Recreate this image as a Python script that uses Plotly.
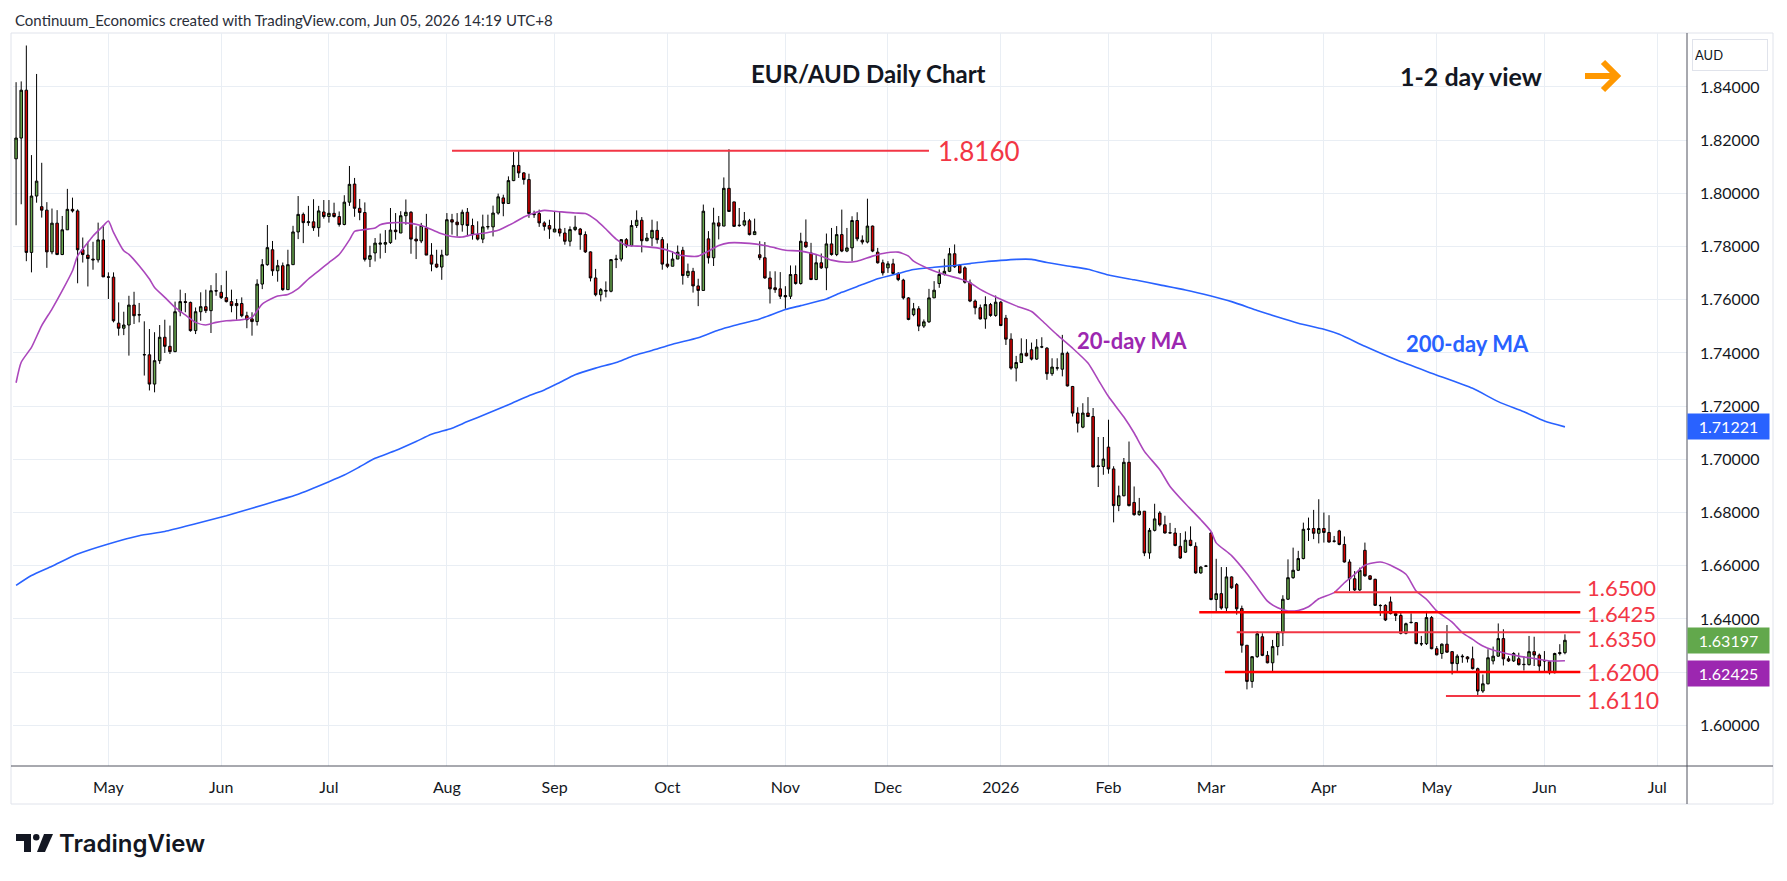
import pandas as pd
import plotly.graph_objects as go

# ---------------------------------------------------------------------
# EUR/AUD daily candles, Apr 7 2025 .. Jun 5 2026
# ---------------------------------------------------------------------
opens = [
    1.8130, 1.8208, 1.8388, 1.7778, 1.7990, 1.7950, 1.7937, 1.7780, 1.7888, 1.7770,
    1.7863, 1.7940, 1.7934, 1.7788, 1.7768, 1.7753, 1.7750, 1.7825, 1.7686, 1.7685,
    1.7512, 1.7493, 1.7505, 1.7580, 1.7544, 1.7394, 1.7393, 1.7283, 1.7371, 1.7459,
    1.7425, 1.7405, 1.7555, 1.7593, 1.7590, 1.7484, 1.7555, 1.7574, 1.7559, 1.7634,
    1.7628, 1.7608, 1.7593, 1.7586, 1.7586, 1.7540, 1.7528, 1.7518, 1.7659, 1.7732,
    1.7788, 1.7709, 1.7728, 1.7638, 1.7732, 1.7855, 1.7921, 1.7890, 1.7893, 1.7871,
    1.7930, 1.7913, 1.7925, 1.7913, 1.7883, 1.7967, 1.8035, 1.7944, 1.7928, 1.7752,
    1.7776, 1.7809, 1.7809, 1.7815, 1.7862, 1.7851, 1.7916, 1.7929, 1.7828, 1.7821,
    1.7870, 1.7768, 1.7734, 1.7723, 1.7768, 1.7901, 1.7892, 1.7882, 1.7929, 1.7879,
    1.7845, 1.7828, 1.7874, 1.7874, 1.7926, 1.7983, 1.7962, 1.8048, 1.8105, 1.8077,
    1.8052, 1.7924, 1.7924, 1.7889, 1.7879, 1.7855, 1.7866, 1.7851, 1.7820, 1.7864,
    1.7866, 1.7845, 1.7780, 1.7682, 1.7619, 1.7632, 1.7632, 1.7751, 1.7753, 1.7826,
    1.7803, 1.7879, 1.7899, 1.7822, 1.7832, 1.7861, 1.7826, 1.7734, 1.7726, 1.7753,
    1.7786, 1.7691, 1.7707, 1.7652, 1.7635, 1.7829, 1.7758, 1.7889, 1.7877, 1.8019,
    1.7968, 1.7879, 1.7881, 1.7897, 1.7845, 1.7769, 1.7758, 1.7682, 1.7645, 1.7641,
    1.7616, 1.7613, 1.7695, 1.7661, 1.7817, 1.7776, 1.7676, 1.7739, 1.7720, 1.7810,
    1.7770, 1.7845, 1.7783, 1.7795, 1.7898, 1.7824, 1.7817, 1.7877, 1.7779, 1.7739,
    1.7720, 1.7735, 1.7699, 1.7674, 1.7607, 1.7544, 1.7566, 1.7501, 1.7517, 1.7607,
    1.7661, 1.7695, 1.7707, 1.7773, 1.7730, 1.7720, 1.7664, 1.7595, 1.7570, 1.7528,
    1.7582, 1.7541, 1.7591, 1.7531, 1.7452, 1.7343, 1.7364, 1.7399, 1.7412, 1.7377,
    1.7422, 1.7418, 1.7322, 1.7343, 1.7339, 1.7399, 1.7274, 1.7174, 1.7121, 1.7174,
    1.7161, 1.6973, 1.6973, 1.7046, 1.6964, 1.6826, 1.6863, 1.6989, 1.6838, 1.6792,
    1.6805, 1.6648, 1.6733, 1.6798, 1.6754, 1.6723, 1.6723, 1.6673, 1.6651, 1.6696,
    1.6673, 1.6573, 1.6598, 1.6723, 1.6473, 1.6495, 1.6441, 1.6558, 1.6529, 1.6439,
    1.6301, 1.6165, 1.6258, 1.6333, 1.6263, 1.6235, 1.6296, 1.6348, 1.6474, 1.6555,
    1.6583, 1.6627, 1.6737, 1.6740, 1.6722, 1.6740, 1.6725, 1.6693, 1.6731, 1.6680,
    1.6614, 1.6551, 1.6509, 1.6658, 1.6562, 1.6549, 1.6451, 1.6451, 1.6464, 1.6420,
    1.6413, 1.6346, 1.6386, 1.6386, 1.6307, 1.6307, 1.6405, 1.6288, 1.6270, 1.6305,
    1.6277, 1.6232, 1.6260, 1.6257, 1.6250, 1.6213, 1.6129, 1.6156, 1.6242, 1.6260,
    1.6326, 1.6250, 1.6242, 1.6250, 1.6228, 1.6228, 1.6277, 1.6264, 1.6242, 1.6239,
    1.6198, 1.6270, 1.6273,
]
highs = [
    1.8418, 1.8421, 1.8556, 1.8144, 1.8449, 1.8115, 1.7967, 1.7943, 1.7937, 1.7915,
    1.8017, 1.7984, 1.7940, 1.7834, 1.7818, 1.7818, 1.7890, 1.7880, 1.7703, 1.7703,
    1.7590, 1.7555, 1.7615, 1.7630, 1.7588, 1.7519, 1.7490, 1.7478, 1.7505, 1.7525,
    1.7503, 1.7593, 1.7638, 1.7625, 1.7593, 1.7571, 1.7628, 1.7638, 1.7655, 1.7700,
    1.7655, 1.7709, 1.7638, 1.7603, 1.7609, 1.7555, 1.7553, 1.7677, 1.7753, 1.7881,
    1.7821, 1.7750, 1.7740, 1.7788, 1.7878, 1.7990, 1.7928, 1.7953, 1.7978, 1.7953,
    1.7975, 1.7975, 1.7965, 1.7932, 1.7993, 1.8103, 1.8058, 1.7979, 1.7966, 1.7803,
    1.7832, 1.7849, 1.7862, 1.7945, 1.7926, 1.7933, 1.7977, 1.7933, 1.7876, 1.7889,
    1.7923, 1.7813, 1.7788, 1.7788, 1.7926, 1.7923, 1.7926, 1.7939, 1.7945, 1.7905,
    1.7895, 1.7920, 1.7920, 1.7954, 1.7999, 1.7995, 1.8064, 1.8155, 1.8162, 1.8080,
    1.8074, 1.7935, 1.7939, 1.7895, 1.7901, 1.7933, 1.7933, 1.7870, 1.7876, 1.7916,
    1.7870, 1.7857, 1.7782, 1.7716, 1.7644, 1.7669, 1.7753, 1.7769, 1.7828, 1.7832,
    1.7899, 1.7936, 1.7911, 1.7851, 1.7901, 1.7895, 1.7836, 1.7812, 1.7782, 1.7804,
    1.7799, 1.7736, 1.7720, 1.7679, 1.7958, 1.7858, 1.7946, 1.7915, 1.8060, 1.8166,
    1.7968, 1.7945, 1.7930, 1.7904, 1.7905, 1.7820, 1.7817, 1.7707, 1.7707, 1.7704,
    1.7651, 1.7729, 1.7729, 1.7852, 1.7902, 1.7814, 1.7770, 1.7774, 1.7849, 1.7870,
    1.7877, 1.7939, 1.7870, 1.7914, 1.7929, 1.7842, 1.7980, 1.7879, 1.7795, 1.7751,
    1.7745, 1.7754, 1.7704, 1.7679, 1.7610, 1.7588, 1.7576, 1.7526, 1.7641, 1.7670,
    1.7714, 1.7754, 1.7795, 1.7808, 1.7733, 1.7726, 1.7676, 1.7601, 1.7582, 1.7613,
    1.7588, 1.7616, 1.7595, 1.7543, 1.7474, 1.7389, 1.7455, 1.7452, 1.7439, 1.7452,
    1.7459, 1.7422, 1.7380, 1.7380, 1.7468, 1.7405, 1.7276, 1.7196, 1.7211, 1.7234,
    1.7193, 1.7084, 1.7084, 1.7149, 1.6974, 1.6901, 1.7005, 1.7067, 1.6898, 1.6855,
    1.6805, 1.6742, 1.6833, 1.6805, 1.6788, 1.6761, 1.6742, 1.6723, 1.6729, 1.6748,
    1.6688, 1.6598, 1.6603, 1.6726, 1.6626, 1.6595, 1.6595, 1.6560, 1.6535, 1.6450,
    1.6301, 1.6260, 1.6354, 1.6346, 1.6279, 1.6321, 1.6354, 1.6489, 1.6624, 1.6668,
    1.6656, 1.6762, 1.6781, 1.6810, 1.6850, 1.6800, 1.6790, 1.6712, 1.6735, 1.6710,
    1.6624, 1.6580, 1.6593, 1.6687, 1.6564, 1.6551, 1.6455, 1.6455, 1.6484, 1.6430,
    1.6424, 1.6386, 1.6421, 1.6388, 1.6336, 1.6430, 1.6411, 1.6298, 1.6308, 1.6377,
    1.6279, 1.6267, 1.6267, 1.6260, 1.6296, 1.6217, 1.6191, 1.6286, 1.6296, 1.6383,
    1.6361, 1.6260, 1.6275, 1.6273, 1.6260, 1.6336, 1.6333, 1.6270, 1.6279, 1.6242,
    1.6273, 1.6305, 1.6342,
]
lows = [
    1.7880, 1.7959, 1.7745, 1.7703, 1.7965, 1.7909, 1.7720, 1.7771, 1.7768, 1.7768,
    1.7863, 1.7928, 1.7662, 1.7740, 1.7650, 1.7713, 1.7740, 1.7686, 1.7603, 1.7515,
    1.7465, 1.7467, 1.7390, 1.7509, 1.7515, 1.7315, 1.7259, 1.7252, 1.7359, 1.7400,
    1.7396, 1.7403, 1.7538, 1.7553, 1.7480, 1.7471, 1.7521, 1.7550, 1.7475, 1.7615,
    1.7603, 1.7590, 1.7553, 1.7525, 1.7534, 1.7493, 1.7465, 1.7503, 1.7640, 1.7728,
    1.7690, 1.7668, 1.7634, 1.7638, 1.7732, 1.7828, 1.7813, 1.7878, 1.7859, 1.7837,
    1.7905, 1.7890, 1.7909, 1.7875, 1.7880, 1.7953, 1.7912, 1.7899, 1.7744, 1.7723,
    1.7744, 1.7755, 1.7776, 1.7810, 1.7826, 1.7851, 1.7882, 1.7773, 1.7753, 1.7813,
    1.7768, 1.7707, 1.7719, 1.7675, 1.7768, 1.7845, 1.7838, 1.7856, 1.7839, 1.7826,
    1.7823, 1.7813, 1.7864, 1.7838, 1.7920, 1.7914, 1.7962, 1.8046, 1.8058, 1.8033,
    1.7908, 1.7908, 1.7874, 1.7860, 1.7829, 1.7854, 1.7838, 1.7807, 1.7801, 1.7858,
    1.7788, 1.7776, 1.7669, 1.7613, 1.7594, 1.7609, 1.7628, 1.7719, 1.7744, 1.7795,
    1.7801, 1.7870, 1.7778, 1.7820, 1.7801, 1.7811, 1.7713, 1.7719, 1.7726, 1.7753,
    1.7657, 1.7682, 1.7627, 1.7576, 1.7635, 1.7736, 1.7727, 1.7827, 1.7877, 1.7932,
    1.7874, 1.7874, 1.7876, 1.7842, 1.7845, 1.7749, 1.7679, 1.7586, 1.7626, 1.7603,
    1.7566, 1.7603, 1.7657, 1.7657, 1.7795, 1.7674, 1.7674, 1.7716, 1.7636, 1.7766,
    1.7764, 1.7779, 1.7779, 1.7745, 1.7820, 1.7808, 1.7812, 1.7779, 1.7736, 1.7691,
    1.7701, 1.7695, 1.7670, 1.7601, 1.7523, 1.7538, 1.7482, 1.7494, 1.7513, 1.7607,
    1.7645, 1.7691, 1.7704, 1.7720, 1.7699, 1.7661, 1.7591, 1.7545, 1.7526, 1.7491,
    1.7536, 1.7536, 1.7501, 1.7430, 1.7337, 1.7293, 1.7362, 1.7387, 1.7372, 1.7374,
    1.7418, 1.7299, 1.7314, 1.7334, 1.7312, 1.7274, 1.7161, 1.7101, 1.7117, 1.7159,
    1.6971, 1.6896, 1.6942, 1.6946, 1.6763, 1.6805, 1.6861, 1.6823, 1.6788, 1.6788,
    1.6636, 1.6626, 1.6729, 1.6748, 1.6721, 1.6721, 1.6673, 1.6626, 1.6648, 1.6673,
    1.6570, 1.6570, 1.6595, 1.6470, 1.6429, 1.6435, 1.6429, 1.6513, 1.6416, 1.6273,
    1.6135, 1.6141, 1.6254, 1.6260, 1.6233, 1.6204, 1.6263, 1.6298, 1.6471, 1.6551,
    1.6580, 1.6624, 1.6693, 1.6700, 1.6684, 1.6687, 1.6687, 1.6687, 1.6677, 1.6612,
    1.6505, 1.6505, 1.6505, 1.6559, 1.6546, 1.6449, 1.6411, 1.6392, 1.6417, 1.6392,
    1.6342, 1.6342, 1.6383, 1.6305, 1.6298, 1.6302, 1.6286, 1.6263, 1.6250, 1.6273,
    1.6191, 1.6199, 1.6235, 1.6236, 1.6210, 1.6112, 1.6122, 1.6154, 1.6229, 1.6258,
    1.6225, 1.6238, 1.6238, 1.6225, 1.6206, 1.6225, 1.6223, 1.6204, 1.6203, 1.6191,
    1.6195, 1.6263, 1.6267,
]
closes = [
    1.8208, 1.8388, 1.7778, 1.7990, 1.8046, 1.7937, 1.7780, 1.7888, 1.7770, 1.7863,
    1.7940, 1.7934, 1.7788, 1.7770, 1.7755, 1.7750, 1.7825, 1.7686, 1.7685, 1.7521,
    1.7493, 1.7505, 1.7580, 1.7540, 1.7543, 1.7393, 1.7283, 1.7371, 1.7459, 1.7425,
    1.7405, 1.7555, 1.7593, 1.7590, 1.7484, 1.7555, 1.7574, 1.7559, 1.7634, 1.7633,
    1.7608, 1.7593, 1.7578, 1.7578, 1.7540, 1.7525, 1.7518, 1.7659, 1.7732, 1.7796,
    1.7709, 1.7728, 1.7638, 1.7732, 1.7855, 1.7921, 1.7890, 1.7893, 1.7871, 1.7934,
    1.7913, 1.7925, 1.7913, 1.7883, 1.7967, 1.8034, 1.7944, 1.7928, 1.7752, 1.7766,
    1.7813, 1.7813, 1.7815, 1.7862, 1.7856, 1.7916, 1.7929, 1.7828, 1.7821, 1.7879,
    1.7768, 1.7734, 1.7723, 1.7768, 1.7901, 1.7892, 1.7882, 1.7929, 1.7879, 1.7845,
    1.7828, 1.7874, 1.7875, 1.7926, 1.7987, 1.7962, 1.8048, 1.8105, 1.8077, 1.8052,
    1.7924, 1.7920, 1.7889, 1.7876, 1.7866, 1.7866, 1.7851, 1.7820, 1.7864, 1.7873,
    1.7845, 1.7780, 1.7682, 1.7619, 1.7638, 1.7635, 1.7751, 1.7753, 1.7826, 1.7803,
    1.7879, 1.7899, 1.7822, 1.7832, 1.7861, 1.7826, 1.7734, 1.7726, 1.7753, 1.7779,
    1.7691, 1.7707, 1.7652, 1.7635, 1.7933, 1.7758, 1.7889, 1.7877, 1.8019, 1.7932,
    1.7876, 1.7880, 1.7897, 1.7845, 1.7856, 1.7758, 1.7682, 1.7641, 1.7638, 1.7613,
    1.7611, 1.7695, 1.7661, 1.7820, 1.7799, 1.7676, 1.7739, 1.7720, 1.7810, 1.7770,
    1.7845, 1.7783, 1.7795, 1.7898, 1.7829, 1.7817, 1.7877, 1.7783, 1.7739, 1.7701,
    1.7735, 1.7699, 1.7676, 1.7607, 1.7526, 1.7566, 1.7501, 1.7517, 1.7607, 1.7636,
    1.7695, 1.7707, 1.7773, 1.7724, 1.7701, 1.7666, 1.7595, 1.7570, 1.7528, 1.7582,
    1.7541, 1.7591, 1.7503, 1.7452, 1.7343, 1.7364, 1.7397, 1.7389, 1.7377, 1.7422,
    1.7423, 1.7322, 1.7347, 1.7344, 1.7399, 1.7276, 1.7174, 1.7136, 1.7174, 1.7161,
    1.6971, 1.6975, 1.7001, 1.6964, 1.6826, 1.6863, 1.6989, 1.6826, 1.6792, 1.6805,
    1.6648, 1.6733, 1.6776, 1.6754, 1.6723, 1.6724, 1.6676, 1.6629, 1.6696, 1.6676,
    1.6573, 1.6595, 1.6599, 1.6473, 1.6495, 1.6441, 1.6558, 1.6517, 1.6438, 1.6301,
    1.6165, 1.6258, 1.6344, 1.6263, 1.6235, 1.6296, 1.6348, 1.6474, 1.6555, 1.6583,
    1.6627, 1.6737, 1.6738, 1.6722, 1.6740, 1.6725, 1.6689, 1.6692, 1.6680, 1.6614,
    1.6551, 1.6509, 1.6583, 1.6562, 1.6549, 1.6451, 1.6450, 1.6396, 1.6420, 1.6413,
    1.6346, 1.6382, 1.6387, 1.6307, 1.6306, 1.6405, 1.6288, 1.6265, 1.6305, 1.6275,
    1.6232, 1.6260, 1.6258, 1.6250, 1.6213, 1.6129, 1.6156, 1.6254, 1.6260, 1.6326,
    1.6250, 1.6242, 1.6270, 1.6228, 1.6229, 1.6277, 1.6264, 1.6223, 1.6243, 1.6198,
    1.6270, 1.6273, 1.63197,
]

# moving averages, read at sample bars (bar number, value)
ma20_bar = [0, 1, 3, 5, 7, 9, 11, 12, 14, 15, 17, 18, 19, 21, 22, 24, 26, 27, 29, 31,
            33, 35, 37, 39, 41, 44, 46, 48, 51, 53, 55, 57, 59, 61, 63, 65, 66, 68, 70, 71,
            73, 76, 79, 81, 83, 85, 87, 89, 92, 94, 95, 97, 99, 101, 103, 105, 109, 111, 113, 115,
            117, 119, 122, 125, 128, 129, 131, 133, 135, 137, 139, 143, 146, 148, 150, 153, 157, 159, 162, 164,
            167, 169, 172, 174, 175, 178, 181, 184, 186, 188, 191, 195, 198, 200, 203, 206, 209, 211, 213, 216,
            218, 220, 223, 225, 228, 231, 233, 234, 237, 240, 242, 244, 246, 248, 250, 252, 254, 257, 259, 261,
            263, 266, 268, 271, 273, 275, 277, 280, 282, 284, 286, 288, 290, 293, 295, 297, 299, 302]
ma20_val = [1.7288, 1.7365, 1.7421, 1.7503, 1.7565, 1.7634, 1.7709, 1.7765, 1.7815, 1.7840,
            1.7878, 1.7896, 1.7853, 1.7784, 1.7771, 1.7728, 1.7678, 1.7646, 1.7609, 1.7571,
            1.7543, 1.7515, 1.7505, 1.7515, 1.7521, 1.7525, 1.7534, 1.7584, 1.7614, 1.7620,
            1.7642, 1.7678, 1.7709, 1.7740, 1.7770, 1.7825, 1.7857, 1.7864, 1.7870, 1.7882,
            1.7889, 1.7889, 1.7879, 1.7864, 1.7848, 1.7838, 1.7836, 1.7845, 1.7853, 1.7861,
            1.7870, 1.7889, 1.7911, 1.7926, 1.7936, 1.7933, 1.7926, 1.7924, 1.7901, 1.7866,
            1.7828, 1.7805, 1.7801, 1.7795, 1.7780, 1.7770, 1.7764, 1.7764, 1.7783, 1.7804,
            1.7814, 1.7812, 1.7804, 1.7795, 1.7786, 1.7783, 1.7764, 1.7749, 1.7741, 1.7745,
            1.7764, 1.7774, 1.7779, 1.7764, 1.7745, 1.7716, 1.7695, 1.7679, 1.7664, 1.7639,
            1.7610, 1.7577, 1.7556, 1.7522, 1.7468, 1.7418, 1.7362, 1.7299, 1.7236, 1.7159,
            1.7099, 1.7030, 1.6961, 1.6898, 1.6833, 1.6773, 1.6729, 1.6686, 1.6638, 1.6570,
            1.6518, 1.6467, 1.6442, 1.6430, 1.6432, 1.6446, 1.6476, 1.6499, 1.6536, 1.6568,
            1.6602, 1.6614, 1.6602, 1.6568, 1.6505, 1.6474, 1.6430, 1.6388, 1.6348, 1.6323,
            1.6298, 1.6283, 1.6273, 1.6260, 1.6254, 1.6248, 1.6242, 1.62425]

ma200_bar = [0, 3, 7, 12, 18, 24, 29, 35, 41, 46, 51, 55, 61, 64, 67, 70, 74, 78, 81, 85,
             88, 92, 96, 100, 103, 106, 109, 113, 117, 120, 124, 128, 133, 137, 140, 145, 150, 153, 158, 161,
             165, 168, 172, 175, 179, 183, 186, 189, 192, 195, 198, 201, 205, 209, 213, 218, 223, 228, 233, 237,
             242, 246, 250, 255, 258, 263, 269, 276, 284, 289, 294, 298, 302]
ma200_val = [1.6526, 1.6563, 1.6598, 1.6644, 1.6682, 1.6713, 1.6729, 1.6758, 1.6788, 1.6816,
             1.6845, 1.6869, 1.6916, 1.6941, 1.6972, 1.7004, 1.7033, 1.7067, 1.7094, 1.7117,
             1.7142, 1.7173, 1.7205, 1.7239, 1.7261, 1.7289, 1.7318, 1.7343, 1.7364, 1.7387,
             1.7409, 1.7433, 1.7457, 1.7486, 1.7503, 1.7528, 1.7563, 1.7578, 1.7603, 1.7628,
             1.7657, 1.7679, 1.7699, 1.7714, 1.7722, 1.7729, 1.7736, 1.7743, 1.7748, 1.7752,
             1.7752, 1.7740, 1.7727, 1.7715, 1.7693, 1.7675, 1.7656, 1.7637, 1.7614, 1.7593,
             1.7560, 1.7535, 1.7512, 1.7489, 1.7470, 1.7425, 1.7375, 1.7324, 1.7267, 1.7217,
             1.7179, 1.7144, 1.71221]

# support / resistance levels drawn on the chart
levels = [1.8160, 1.6500, 1.6425, 1.6350, 1.6200, 1.6110]
level_names = ["1.8160", "1.6500", "1.6425", "1.6350", "1.6200", "1.6110"]

last_close = 1.63197
last_ma20 = 1.62425
last_ma200 = 1.71221

# trading calendar (FX weekdays, closed Christmas and New Year)
cal = pd.bdate_range("2025-04-07", "2026-07-31", freq="C",
                     holidays=["2025-12-25", "2026-01-01"])
bars = list(range(len(opens)))

tick_bars, tick_text = [], []
for k in range(1, len(cal)):
    if cal[k].month != cal[k - 1].month:
        tick_bars.append(k)
        tick_text.append(str(cal[k].year) if cal[k].month == 1 else cal[k].strftime("%b"))

FONT = "Lato, 'Open Sans', sans-serif"
W, H = 1787, 881
L, R, T, B = 13, 1687, 33, 766   # plot area in pixels


def px(x):
    return (x - L) / (R - L)


def py(y):
    return (B - y) / (B - T)


fig = go.Figure()

fig.add_trace(go.Scatter(x=ma200_bar, y=ma200_val, mode="lines",
                         line=dict(color="#2962ff", width=1.6, shape="spline", smoothing=0.6),
                         hoverinfo="skip", showlegend=False))

fig.add_trace(go.Candlestick(
    x=bars, open=opens, high=highs, low=lows, close=closes,
    increasing=dict(line=dict(color="#000000", width=1), fillcolor="#6aa84f"),
    decreasing=dict(line=dict(color="#000000", width=1), fillcolor="#d50000"),
    whiskerwidth=0, showlegend=False))

fig.add_trace(go.Scatter(x=ma20_bar, y=ma20_val, mode="lines",
                         line=dict(color="#ab47bc", width=1.6, shape="spline", smoothing=0.6),
                         hoverinfo="skip", showlegend=False))

shapes = []
# level lines
level_from = [85, 257, 230.7, 238, 235.7, 278.8]
level_to = [178, 305, 305, 305, 305, 305]
level_col = ["#f23645", "#f23645", "#ff0000", "#f23645", "#ff0000", "#f23645"]
level_w = [2, 2, 2.5, 2, 2.5, 2]
for lv, a, b, c, w in zip(levels, level_from, level_to, level_col, level_w):
    shapes.append(dict(type="line", xref="x", yref="y", x0=a, x1=b, y0=lv, y1=lv,
                       line=dict(color=c, width=w)))

# frame and axis lines
shapes.append(dict(type="rect", xref="paper", yref="paper", x0=px(11), x1=px(1773),
                   y0=py(804), y1=py(33), line=dict(color="#e0e3eb", width=1), layer="below"))
shapes.append(dict(type="line", xref="paper", yref="paper", x0=px(R), x1=px(R),
                   y0=py(804), y1=py(33), line=dict(color="#50535e", width=1)))
shapes.append(dict(type="line", xref="paper", yref="paper", x0=px(11), x1=px(1773),
                   y0=py(B), y1=py(B), line=dict(color="#50535e", width=1)))

# orange arrow
shapes.append(dict(type="path", xref="paper", yref="paper",
                   path=f"M{px(1585)},{py(76)} L{px(1616)},{py(76)}",
                   line=dict(color="#ff9800", width=6)))
shapes.append(dict(type="path", xref="paper", yref="paper",
                   path=f"M{px(1603)},{py(62)} L{px(1617)},{py(76)} L{px(1603)},{py(90)}",
                   line=dict(color="#ff9800", width=6)))

# TradingView logo mark
shapes.append(dict(type="path", xref="paper", yref="paper", fillcolor="#131722",
                   line=dict(width=0),
                   path=(f"M{px(16)},{py(834)} L{px(31)},{py(834)} L{px(31)},{py(852)} "
                         f"L{px(24)},{py(852)} L{px(24)},{py(841)} L{px(16)},{py(841)} Z")))
shapes.append(dict(type="circle", xref="paper", yref="paper", fillcolor="#131722",
                   line=dict(width=0), x0=px(33), x1=px(39.5), y0=py(840.5), y1=py(834)))
shapes.append(dict(type="path", xref="paper", yref="paper", fillcolor="#131722",
                   line=dict(width=0),
                   path=(f"M{px(44)},{py(834)} L{px(53)},{py(834)} L{px(45)},{py(852)} "
                         f"L{px(37)},{py(852)} Z")))

ann = []
ann.append(dict(xref="paper", yref="paper", x=px(13), y=py(20), xanchor="left", yanchor="middle",
                text="Continuum_Economics created with TradingView.com, Jun 05, 2026 14:19 UTC+8",
                showarrow=False, font=dict(family=FONT, size=15, color="#2a2e39")))
ann.append(dict(xref="paper", yref="paper", x=px(868), y=py(74), xanchor="center", yanchor="middle",
                text="EUR/AUD Daily Chart", showarrow=False,
                font=dict(family=FONT, size=24, color="#131722", weight="bold")))
ann.append(dict(xref="paper", yref="paper", x=px(1471), y=py(76), xanchor="center", yanchor="middle",
                text="1-2 day view", showarrow=False,
                font=dict(family=FONT, size=25, color="#131722", weight="bold")))
ann.append(dict(xref="x", yref="y", x=217.5, y=1.7445, xanchor="center", yanchor="middle",
                text="20-day MA", showarrow=False,
                font=dict(family=FONT, size=22, color="#9c27b0", weight="bold")))
ann.append(dict(xref="x", yref="y", x=283, y=1.7435, xanchor="center", yanchor="middle",
                text="200-day MA", showarrow=False,
                font=dict(family=FONT, size=22, color="#2962ff", weight="bold")))

label_x = [179.3, 306, 306, 306, 306, 306]
label_shift = [0, 5, -1, -6, 0, -4]
label_size = [26, 22, 22, 22, 23, 23]
for lv, nm, lx, sh, fs in zip(levels, level_names, label_x, label_shift, label_size):
    ann.append(dict(xref="x", yref="y", x=lx, y=lv, xanchor="left", yanchor="middle",
                    yshift=sh, text=nm, showarrow=False,
                    font=dict(family=FONT, size=fs, color="#f23645")))

# price tags on the right scale
tags = [(last_ma200, 0, "#2962ff"), (last_close, 0, "#62a84c"), (last_ma20, -13, "#9c27b0")]
for val, sh, col in tags:
    ann.append(dict(xref="paper", yref="y", x=px(R), y=val, xanchor="left", yanchor="middle",
                    yshift=sh, text=f"{val:.5f}", showarrow=False, bgcolor=col,
                    width=77, height=21, borderpad=2, align="center",
                    font=dict(family=FONT, size=16, color="#ffffff")))
ann.append(dict(xref="paper", yref="paper", x=px(1692), y=py(55), xanchor="left", yanchor="middle",
                text="AUD", showarrow=False, bgcolor="#ffffff", bordercolor="#e0e3eb",
                borderwidth=1, width=70, height=26, borderpad=2, align="left",
                font=dict(family=FONT, size=13, color="#131722")))
ann.append(dict(xref="paper", yref="paper", x=px(57), y=py(843), xanchor="left", yanchor="middle",
                text="TradingView", showarrow=False,
                font=dict(family="Inter, Lato, sans-serif", size=24, color="#131722", weight=600)))

fig.update_layout(
    width=W, height=H,
    margin=dict(l=L, r=W - R, t=T, b=H - B),
    paper_bgcolor="#ffffff", plot_bgcolor="#ffffff",
    showlegend=False,
    shapes=shapes, annotations=ann,
    xaxis=dict(range=[-0.6, 325.8], tickmode="array", tickvals=tick_bars, ticktext=tick_text,
               showgrid=True, gridcolor="#e9eef4", gridwidth=1, zeroline=False, showline=False,
               ticks="", ticklabelstandoff=10, rangeslider=dict(visible=False),
               tickfont=dict(family=FONT, size=16, color="#131722"), fixedrange=True),
    yaxis=dict(range=[1.5847, 1.8603], side="right", tickmode="array",
               tickvals=[1.60 + 0.02 * k for k in range(13)], tickformat=".5f",
               showgrid=True, gridcolor="#e9eef4", gridwidth=1, zeroline=False, showline=False,
               ticks="", ticklabelstandoff=12,
               tickfont=dict(family=FONT, size=16, color="#131722"), fixedrange=True),
)

# the page body has a default 8px margin; drop it so the figure sits at the top-left corner
fig.write_html("out.html", config={"displayModeBar": False},
               post_script="document.body.style.margin='0';")
